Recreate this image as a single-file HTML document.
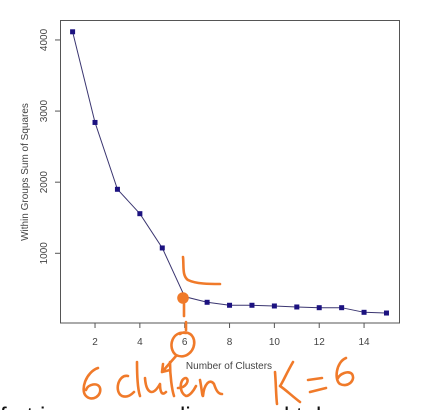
<!DOCTYPE html>
<html><head><meta charset="utf-8"><style>
html,body{margin:0;padding:0;background:#fff;width:428px;height:410px;overflow:hidden}
svg{display:block;font-family:"Liberation Sans",sans-serif}
</style></head><body>
<svg id="chart" width="428" height="410" viewBox="0 0 428 410">
<rect x="60.5" y="20.5" width="339" height="302.5" fill="none" stroke="#555" stroke-width="1"/>
<g id="axes"></g>
<g id="series"></g>
<text x="229" y="369" font-size="10" fill="#444" text-anchor="middle">Number of Clusters</text>
<text transform="translate(28,172) rotate(-90)" font-size="10" fill="#444" text-anchor="middle">Within Groups Sum of Squares</text>
<g fill="none" stroke="#f07a2a" stroke-width="2.6" stroke-linecap="round" stroke-linejoin="round">
<path d="M183 257 C184 266 182 276 188 280 C196 284 210 284 220 284"/>
<circle cx="183" cy="298" r="4.5" fill="#f07a2a"/>
<path d="M184 304 L184 316 M186 322 L186 330"/>
<path d="M186 333 C172 330 167 348 176 355 C186 360 196 350 194 340 C192 332 184 331 180 334"/>
<path d="M176 356 L162 372 M162 372 L170 370 M162 372 L163 364"/>
<path d="M98 368 C86 372 80 390 86 396 C92 402 102 396 100 388 C98 382 88 384 86 390"/>
<path d="M128 376 C118 374 114 392 122 396 C128 398 132 394 134 392"/>
<path d="M137 362 C137 376 138 390 140 396"/>
<path d="M145 378 C146 392 152 398 160 384 C160 392 162 396 166 392"/>
<path d="M170 362 C170 376 172 390 174 396"/>
<path d="M178 388 C186 388 190 380 186 378 C180 378 178 392 186 396 C190 396 194 390 196 386"/>
<path d="M200 380 C202 390 202 396 203 396 C204 384 210 378 214 384 C216 390 218 394 222 394"/>
<path d="M275 372 C276 384 276 396 277 404"/>
<path d="M293 362 C286 374 282 384 280 386 C286 390 292 396 300 402"/>
<path d="M308 380 L322 378 M310 392 L326 388"/>
<path d="M346 358 C336 362 334 380 340 384 C348 388 356 380 352 374 C348 370 340 374 338 378"/>
</g>
<text x="0" y="424" font-size="24" fill="#111" style="white-space:pre">f   t i        r           li              l t  l</text>
</svg>
<script>
const clusters=[1,2,3,4,5,6,7,8,9,10,11,12,13,14,15];
const wss=[4115,2840,1900,1557,1075,390,311,269,269,259,245,235,235,170,160];
const xTicks=[2,4,6,8,10,12,14];
const yTicks=[1000,2000,3000,4000];
const NS="http://www.w3.org/2000/svg";
function xs(v){return 72.6+(v-1)*22.42;}
function ys(v){return 324.4-v*0.07111;}
function mk(t,a,p){const e=document.createElementNS(NS,t);for(const k in a)e.setAttribute(k,a[k]);p.appendChild(e);return e;}
const ax=document.getElementById('axes'),se=document.getElementById('series');
xTicks.forEach(v=>{
 const l=mk('line',{x1:xs(v),x2:xs(v),y1:323,y2:328,stroke:'#555'},ax);
 
 
 const t=mk('text',{x:xs(v),y:345,'font-size':10,fill:'#444','text-anchor':'middle'},ax);t.textContent=v;
 
 
});
yTicks.forEach(v=>{
 const l=mk('line',{x1:55,x2:60,y1:ys(v),y2:ys(v),stroke:'#555'},ax);
 
 
 const t=mk('text',{transform:`translate(47,${ys(v)}) rotate(-90)`,'font-size':10,fill:'#444','text-anchor':'middle'},ax);t.textContent=v;
 
 
});
const pl=mk('polyline',{points:clusters.map((c,i)=>xs(c)+','+ys(wss[i])).join(' '),fill:'none',stroke:'#3a3570','stroke-width':1},se);


clusters.forEach((c,i)=>{
 const r=mk('rect',{x:xs(c)-2.5,y:ys(wss[i])-2.5,width:5,height:5,fill:'#1c1280'},se);
 
 
});
</script>
</body></html>
